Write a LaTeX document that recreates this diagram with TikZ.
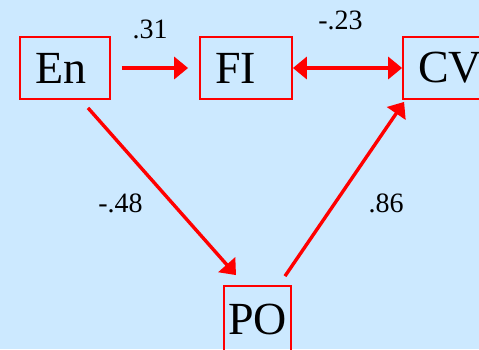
\documentclass[tikz,border=0pt]{standalone}
\usepackage{fontspec}
\setmainfont{Liberation Serif}
\usetikzlibrary{arrows.meta,calc}
\definecolor{pathbg}{HTML}{CCE9FF}
\definecolor{pathred}{HTML}{FF0000}

\begin{document}
\begin{tikzpicture}[
  x=1pt,
  y=-1pt,
  every node/.style={font=\fontsize{46}{50}\selectfont},
  varbox/.style={draw=pathred, line width=1.8pt, minimum height=62pt,
    inner ysep=0pt, inner xsep=15pt, align=left},
  coef/.style={font=\fontsize{28}{32}\selectfont},
  pathline/.style={pathred, line width=4pt, -{Triangle[length=14pt,width=22pt]}}
]
  \fill[pathbg] (0,0) rectangle (479,349);
  \useasboundingbox (0,0) rectangle (479,349);

  \node[varbox, text width=60pt] (en) at (65,68) {En};
  \node[varbox, text width=62pt] (fi) at (246,68) {FI};
  \node[varbox, text width=60pt] (cv) at (448,68) {CV};
  \node[varbox, inner xsep=0pt, minimum width=67pt, minimum height=66pt] (po) at (257.5,319) {PO};

  \draw[pathline, shorten <=11pt, shorten >=11pt] (en.east) -- (fi.west);
  \draw[pathline, {Triangle[length=14pt,width=22pt]}-{Triangle[length=14pt,width=22pt]}]
    (fi.east) -- (cv.west);
  \draw[pathline, line width=3.4pt] ($(en.south)+(23,8)$) -- ($(po.north)+(-21.5,-10)$);
  \draw[pathline, line width=3.4pt] ($(po.north)+(27.5,-9)$) -- ($(cv.south west)+(2,2)$);

  \node[coef] (c1) at (150,29) {.31};
  \node[coef] (c2) at (340.5,20) {-.23};
  \node[coef] (c3) at (120.5,203) {-.48};
  \node[coef] (c4) at (386,203) {.86};
\end{tikzpicture}
\end{document}
